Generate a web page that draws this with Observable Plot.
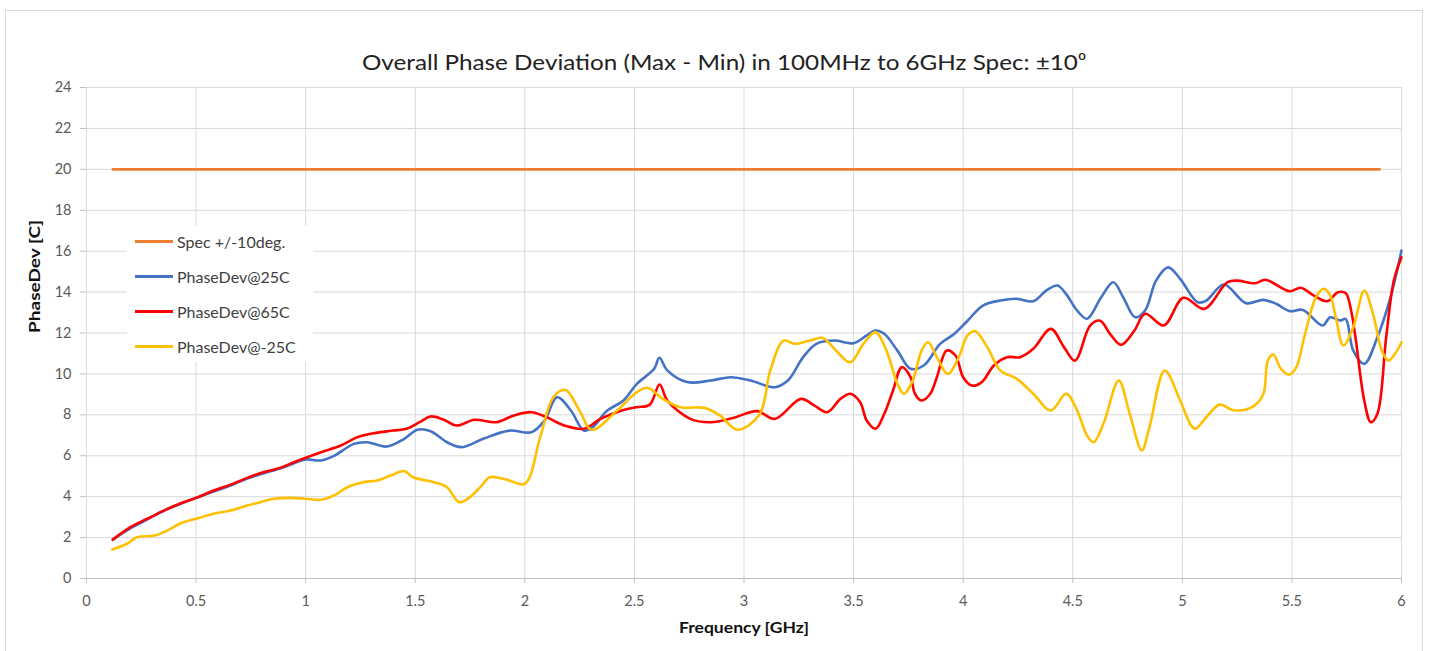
<!DOCTYPE html>
<html>
<head>
<meta charset="utf-8">
<script src="https://cdn.jsdelivr.net/npm/d3@7"></script>
<script src="https://cdn.jsdelivr.net/npm/@observablehq/plot@0.6"></script>
<style>
  body { margin: 0; background: #fff; font-family: Lato, "Open Sans", sans-serif; }
  #wrap { position: relative; width: 1432px; height: 651px; overflow: hidden; }
  #frame { position: absolute; left: 5px; top: 10px; width: 1418px; height: 660px; border: 1px solid #d9d9d9; box-sizing: border-box; }
  #chart { position: absolute; left: 0; top: 0; }
  #legend { position: absolute; left: 127px; top: 226px; width: 186px; height: 136px; background: #fff; }
  .li { position: absolute; left: 8px; height: 20px; display: flex; align-items: center; font-size: 16px; color: #404040; white-space: nowrap; }
  .sw { width: 38px; height: 3px; margin-right: 4px; flex: none; }
</style>
</head>
<body>
<div id="wrap">
  <div id="frame"></div>
  <div id="chart"></div>
  <div id="legend"></div>
</div>
<script>
// ---- data ----
const titleText = "Overall Phase Deviation (Max - Min) in 100MHz to 6GHz Spec: ±10⁰";
const xLabel = "Frequency [GHz]";
const yLabel = "PhaseDev [C]";
const xTicks = [0, 0.5, 1, 1.5, 2, 2.5, 3, 3.5, 4, 4.5, 5, 5.5, 6];
const yTicks = [0, 2, 4, 6, 8, 10, 12, 14, 16, 18, 20, 22, 24];
const seriesNames = ["Spec +/-10deg.", "PhaseDev@25C", "PhaseDev@65C", "PhaseDev@-25C"];
const seriesColors = ["#ED7D31", "#4472C4", "#FF0000", "#FFC000"];

const specFreq = [0.12, 5.9];
const specVal = [20, 20];

const freq25 = [0.12,0.20,0.28,0.35,0.43,0.50,0.58,0.66,0.73,0.81,0.89,0.95,1.00,1.07,1.13,1.22,1.28,1.37,1.45,1.51,1.57,1.645,1.71,1.81,1.93,2.03,2.09,2.147,2.21,2.27,2.31,2.375,2.45,2.51,2.59,2.614,2.65,2.74,2.85,2.94,3.03,3.14,3.20,3.27,3.33,3.41,3.50,3.56,3.60,3.64,3.70,3.76,3.82,3.895,3.96,4.02,4.09,4.17,4.245,4.32,4.38,4.43,4.47,4.52,4.565,4.63,4.685,4.73,4.785,4.83,4.88,4.935,4.99,5.07,5.11,5.19,5.29,5.37,5.43,5.49,5.55,5.64,5.675,5.72,5.745,5.78,5.83,5.89,5.95,6.0];
const val25 = [1.9,2.45,2.9,3.3,3.65,3.94,4.25,4.55,4.88,5.15,5.4,5.65,5.82,5.77,6.0,6.58,6.66,6.45,6.83,7.27,7.2,6.66,6.42,6.83,7.23,7.15,7.72,8.86,8.21,7.23,7.4,8.2,8.7,9.5,10.25,10.79,10.17,9.6,9.68,9.84,9.68,9.35,9.68,10.82,11.47,11.63,11.5,11.88,12.12,11.96,11.14,10.25,10.41,11.47,11.96,12.6,13.34,13.59,13.67,13.55,14.08,14.32,13.9,13.1,12.7,13.75,14.48,13.75,12.77,13.1,14.56,15.21,14.65,13.5,13.59,14.37,13.46,13.62,13.42,13.07,13.13,12.37,12.77,12.61,12.69,11.14,10.49,11.79,13.75,16.03];

const freq65 = [0.12,0.20,0.277,0.353,0.43,0.50,0.58,0.657,0.733,0.81,0.885,0.946,1.00,1.07,1.16,1.235,1.31,1.40,1.46,1.52,1.57,1.63,1.69,1.77,1.87,1.95,2.03,2.10,2.18,2.27,2.345,2.45,2.51,2.57,2.615,2.65,2.755,2.85,2.95,3.06,3.14,3.26,3.32,3.38,3.44,3.485,3.53,3.56,3.60,3.64,3.68,3.72,3.76,3.78,3.81,3.85,3.88,3.925,3.965,4.00,4.04,4.085,4.14,4.20,4.26,4.32,4.40,4.46,4.51,4.58,4.625,4.67,4.72,4.78,4.83,4.915,5.005,5.10,5.205,5.25,5.33,5.38,5.49,5.54,5.60,5.66,5.71,5.745,5.77,5.79,5.83,5.86,5.89,5.93,5.965,6.0];
const val65 = [1.9,2.51,2.92,3.32,3.68,3.94,4.3,4.59,4.92,5.2,5.41,5.68,5.9,6.17,6.5,6.9,7.1,7.23,7.32,7.64,7.92,7.76,7.48,7.76,7.64,7.97,8.13,7.88,7.48,7.32,7.8,8.24,8.37,8.5,9.48,8.7,7.8,7.64,7.85,8.18,7.8,8.78,8.46,8.13,8.78,9.03,8.62,7.72,7.32,8.05,9.19,10.33,9.84,9.03,8.7,9.03,9.84,11.14,10.9,9.84,9.43,9.6,10.41,10.82,10.82,11.23,12.2,11.31,10.65,12.37,12.6,11.96,11.42,12.1,12.94,12.37,13.72,13.18,14.48,14.56,14.43,14.6,14.04,14.21,13.83,13.55,13.99,13.95,13.1,11.79,8.7,7.64,8.05,11.79,14.56,15.7];

const freqM25 = [0.117,0.185,0.23,0.31,0.37,0.43,0.50,0.58,0.657,0.733,0.794,0.855,0.93,1.00,1.07,1.13,1.19,1.265,1.326,1.387,1.45,1.49,1.585,1.645,1.70,1.74,1.80,1.84,1.92,2.00,2.07,2.13,2.185,2.25,2.305,2.42,2.51,2.56,2.63,2.71,2.82,2.89,2.97,3.07,3.12,3.18,3.23,3.30,3.36,3.42,3.485,3.545,3.60,3.65,3.70,3.73,3.77,3.81,3.84,3.88,3.93,3.98,4.02,4.055,4.11,4.17,4.245,4.32,4.40,4.47,4.52,4.565,4.595,4.64,4.71,4.76,4.815,4.85,4.92,4.99,5.04,5.06,5.11,5.17,5.23,5.28,5.33,5.37,5.39,5.415,5.45,5.49,5.52,5.56,5.61,5.645,5.675,5.70,5.735,5.78,5.83,5.87,5.91,5.94,5.97,6.0];
const valM25 = [1.42,1.7,2.02,2.1,2.35,2.7,2.92,3.16,3.32,3.57,3.73,3.9,3.94,3.9,3.85,4.06,4.46,4.71,4.79,5.03,5.25,4.95,4.71,4.46,3.73,3.9,4.5,4.95,4.82,4.63,6.9,8.86,9.22,8.2,7.27,8.2,9.1,9.32,8.78,8.37,8.34,7.97,7.27,8.0,10.17,11.63,11.47,11.63,11.76,11.14,10.57,11.47,12.04,11.14,9.52,9.03,9.68,11.14,11.55,10.82,10.0,10.82,11.88,12.09,11.31,10.17,9.76,9.03,8.21,9.03,8.21,6.99,6.66,7.56,9.68,8.05,6.26,7.4,10.17,8.7,7.48,7.32,7.89,8.5,8.24,8.24,8.46,9.03,10.65,10.95,10.25,9.97,10.33,11.96,13.75,14.16,13.83,12.77,11.39,12.28,14.08,12.94,11.14,10.65,10.98,11.55];

// ---- build table ----
const rows = [];
const add = (fs, vs, name) => fs.forEach((f, i) => rows.push({ f, v: vs[i], s: name }));
add(specFreq, specVal, seriesNames[0]);
add(freq25, val25, seriesNames[1]);
add(freq65, val65, seriesNames[2]);
add(freqM25, valM25, seriesNames[3]);

const plot = Plot.plot({
  width: 1432,
  height: 651,
  marginLeft: 86,
  marginRight: 31,
  marginTop: 87,
  marginBottom: 73,
  style: { fontFamily: "Lato, 'Open Sans', sans-serif", background: "transparent", overflow: "visible" },
  x: { domain: [0, 6] },
  y: { domain: [0, 24] },
  color: { domain: seriesNames, range: seriesColors },
  marks: [
    Plot.gridX(xTicks, { stroke: "#d9d9d9", strokeOpacity: 1 }),
    Plot.gridY(yTicks, { stroke: "#d9d9d9", strokeOpacity: 1 }),
    Plot.ruleY([0], { stroke: "#bfbfbf", strokeWidth: 1.2 }),
    Plot.axisX(xTicks, { tickSize: 5, stroke: "#bfbfbf", tickPadding: 12, fontSize: 14.5, fill: "#595959", label: null, tickFormat: d => String(d) }),
    Plot.axisY(yTicks, { tickSize: 6, stroke: "#bfbfbf", tickPadding: 9, fontSize: 14.5, fill: "#595959", label: null, tickFormat: d => String(d) }),
    Plot.line(rows, { x: "f", y: "v", z: "s", stroke: "s", strokeWidth: 2.6, curve: "catmull-rom", strokeLinejoin: "round", strokeLinecap: "round" }),
    Plot.text([titleText], { frameAnchor: "top", dy: -32, dx: -20, fontSize: 21, fill: "#222", text: d => d }),
    Plot.text([xLabel], { frameAnchor: "bottom", dy: 54, fontSize: 15, fontWeight: "bold", fill: "#111", text: d => d }),
    Plot.text([yLabel], { frameAnchor: "left", dx: -51, rotate: -90, fontSize: 15.5, fontWeight: "bold", fill: "#111", text: d => d })
  ]
});
document.getElementById("chart").appendChild(plot);

// fit text widths to the reference layout
const fits = new Map([[titleText, 724], [xLabel, 130], [yLabel, 113]]);
d3.select(plot).selectAll("text").each(function () {
  const w = fits.get(this.textContent);
  if (w) { this.setAttribute("textLength", w); this.setAttribute("lengthAdjust", "spacingAndGlyphs"); }
});

// ---- legend ----
const legend = document.getElementById("legend");
const legendTops = [5, 40, 75, 110];
seriesNames.forEach((name, i) => {
  const el = document.createElement("div");
  el.className = "li";
  el.style.top = legendTops[i] + "px";
  const sw = document.createElement("span");
  sw.className = "sw";
  sw.style.background = seriesColors[i];
  const tx = document.createElement("span");
  tx.textContent = name;
  el.appendChild(sw);
  el.appendChild(tx);
  legend.appendChild(el);
});
</script>
</body>
</html>
